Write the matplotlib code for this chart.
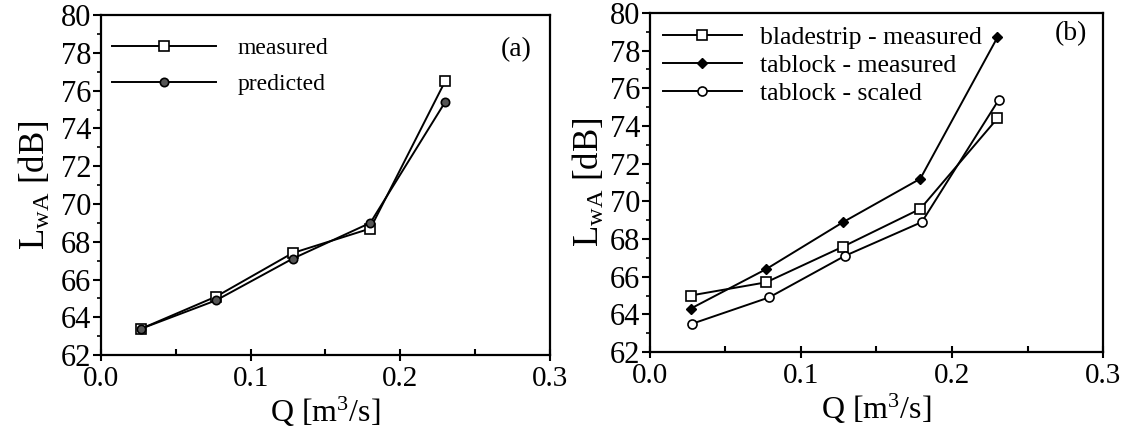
import matplotlib
matplotlib.use('Agg')
import matplotlib.pyplot as plt
from matplotlib.ticker import MultipleLocator

plt.rcParams['font.family'] = ['Liberation Serif', 'DejaVu Serif']
plt.rcParams['mathtext.fontset'] = 'custom'
plt.rcParams['mathtext.rm'] = 'Liberation Serif'
plt.rcParams['mathtext.it'] = 'Liberation Serif:italic'

# panel (a)
q_a = [0.027, 0.077, 0.128, 0.180, 0.230]
measured = [63.4, 65.1, 67.4, 68.7, 76.5]
predicted = [63.4, 64.9, 67.1, 69.0, 75.4]

# panel (b)
q_b = [0.027, 0.077, 0.128, 0.179, 0.230]
blade_meas = [65.0, 65.7, 67.6, 69.6, 74.4]
tab_meas = [64.3, 66.4, 68.9, 71.2, 78.7]
q_b_scaled = [0.028, 0.079, 0.129, 0.180, 0.231]
tab_scaled = [63.5, 64.9, 67.1, 68.9, 75.4]

fig = plt.figure(figsize=(11.28, 4.33), dpi=100)
ax1 = fig.add_axes([0.0895, 0.180, 0.398, 0.785])
ax2 = fig.add_axes([0.576, 0.187, 0.402, 0.783])

lw = 1.4
ax1.plot(q_a, measured, color='black', lw=lw, marker='s', ms=6.5,
         mfc='white', mec='black', mew=1.2, label='measured')
ax1.plot(q_a, predicted, color='black', lw=lw, marker='o', ms=6,
         mfc='#555555', mec='black', mew=1.2, label='predicted')

ax2.plot(q_b, blade_meas, color='black', lw=lw, marker='s', ms=6.5,
         mfc='white', mec='black', mew=1.2, label='bladestrip - measured')
ax2.plot(q_b, tab_meas, color='black', lw=lw, marker='D', ms=5,
         mfc='black', mec='black', label='tablock - measured')
ax2.plot(q_b_scaled, tab_scaled, color='black', lw=lw, marker='o', ms=6.5,
         mfc='white', mec='black', mew=1.2, label='tablock - scaled')

for ax in (ax1, ax2):
    ax.set_xlim(0, 0.3)
    ax.set_ylim(62, 80)
    ax.xaxis.set_major_locator(MultipleLocator(0.1))
    ax.xaxis.set_minor_locator(MultipleLocator(0.05))
    ax.yaxis.set_major_locator(MultipleLocator(2))
    ax.yaxis.set_minor_locator(MultipleLocator(1))
    ax.xaxis.set_major_formatter(plt.FormatStrFormatter('%.1f'))
    ax.tick_params(axis='x', which='major', direction='inout', length=8, width=1.5,
                   labelsize=21, pad=4)
    ax.tick_params(axis='x', which='minor', direction='in', length=4, width=1.5)
    ax.tick_params(axis='y', which='major', direction='out', length=6, width=1.5,
                   labelsize=22, pad=1)
    ax.tick_params(axis='y', which='minor', direction='out', length=3, width=1.2)
    for s in ax.spines.values():
        s.set_linewidth(1.6)
    ax.set_xlabel('Q [m$^3$/s]', fontsize=23, labelpad=2)
ax1.set_ylabel(r'L$_{\mathrm{wA}}$ [dB]', fontsize=25, labelpad=6)
ax2.set_ylabel(r'L$_{\mathrm{wA}}$ [dB]', fontsize=25, labelpad=2)

ax1.legend(loc='upper left', frameon=False, fontsize=17, handlelength=4.4,
           handletextpad=0.9, labelspacing=0.6, borderaxespad=0.55,
           bbox_to_anchor=(-0.025, 1.0))
ax2.legend(loc='upper left', frameon=False, fontsize=18.5, handlelength=3.1,
           handletextpad=0.7, labelspacing=0.2, borderaxespad=0.1,
           bbox_to_anchor=(0.0, 1.0))

ax1.text(0.96, 0.90, '(a)', transform=ax1.transAxes, ha='right', va='center',
         fontsize=20)
ax2.text(0.965, 0.94, '(b)', transform=ax2.transAxes, ha='right', va='center',
         fontsize=20)

fig.savefig('out.png', dpi=100)
